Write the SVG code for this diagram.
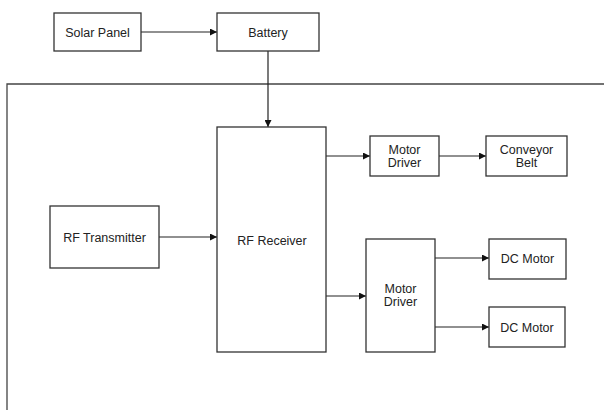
<svg xmlns="http://www.w3.org/2000/svg" width="604" height="410" viewBox="0 0 604 410">
<defs>
<style>
.box{fill:#fff;stroke:#333;stroke-width:1.3}
.lbl{font-family:"Liberation Sans",Arial,sans-serif;font-size:12.5px;fill:#222;text-anchor:middle}
.con{fill:none;stroke:#222;stroke-width:1.2}
.frame{fill:none;stroke:#444;stroke-width:1.3}
</style>
<marker id="ah" viewBox="0 0 10 10" refX="10" refY="5" markerWidth="7" markerHeight="7" markerUnits="userSpaceOnUse" orient="auto">
<path d="M0,0 L10,5 L0,10 Z" fill="#111"/>
</marker>
</defs>
<rect width="604" height="410" fill="#fff"/>
<path class="frame" d="M7,410 V84 H604"/>
<g id="connectors">
<line class="con" x1="141" y1="32" x2="217" y2="32" marker-end="url(#ah)"/>
<line class="con" x1="268" y1="51" x2="268" y2="127" marker-end="url(#ah)"/>
<line class="con" x1="159" y1="237" x2="217" y2="237" marker-end="url(#ah)"/>
<line class="con" x1="326" y1="156" x2="370" y2="156" marker-end="url(#ah)"/>
<line class="con" x1="439" y1="156" x2="486" y2="156" marker-end="url(#ah)"/>
<line class="con" x1="326" y1="296" x2="366" y2="296" marker-end="url(#ah)"/>
<line class="con" x1="435" y1="258" x2="489" y2="258" marker-end="url(#ah)"/>
<line class="con" x1="435" y1="327" x2="489" y2="327" marker-end="url(#ah)"/>
</g>
<g id="solar-panel">
<rect class="box" x="54" y="13" width="87" height="38"/>
<text class="lbl" x="97.5" y="36.5">Solar Panel</text>
</g>
<g id="battery">
<rect class="box" x="217" y="13" width="102" height="38"/>
<text class="lbl" x="268" y="36.5">Battery</text>
</g>
<g id="rf-receiver">
<rect class="box" x="217" y="127" width="109" height="225"/>
<text class="lbl" x="272" y="245">RF Receiver</text>
</g>
<g id="rf-transmitter">
<rect class="box" x="50" y="206" width="109" height="62"/>
<text class="lbl" x="104.5" y="241.5">RF Transmitter</text>
</g>
<g id="motor-driver-1">
<rect class="box" x="370" y="136" width="69" height="40"/>
<text class="lbl" x="404.5" y="153.5">Motor</text>
<text class="lbl" x="404.5" y="167">Driver</text>
</g>
<g id="conveyor-belt">
<rect class="box" x="486" y="136" width="81" height="40"/>
<text class="lbl" x="526.5" y="153.5">Conveyor</text>
<text class="lbl" x="526.5" y="167">Belt</text>
</g>
<g id="motor-driver-2">
<rect class="box" x="366" y="239" width="69" height="113"/>
<text class="lbl" x="400.5" y="292.5">Motor</text>
<text class="lbl" x="400.5" y="306">Driver</text>
</g>
<g id="dc-motor-1">
<rect class="box" x="489" y="239" width="77" height="40"/>
<text class="lbl" x="527.5" y="262.5">DC Motor</text>
</g>
<g id="dc-motor-2">
<rect class="box" x="489" y="307" width="76" height="40"/>
<text class="lbl" x="527" y="331.5">DC Motor</text>
</g>
</svg>
